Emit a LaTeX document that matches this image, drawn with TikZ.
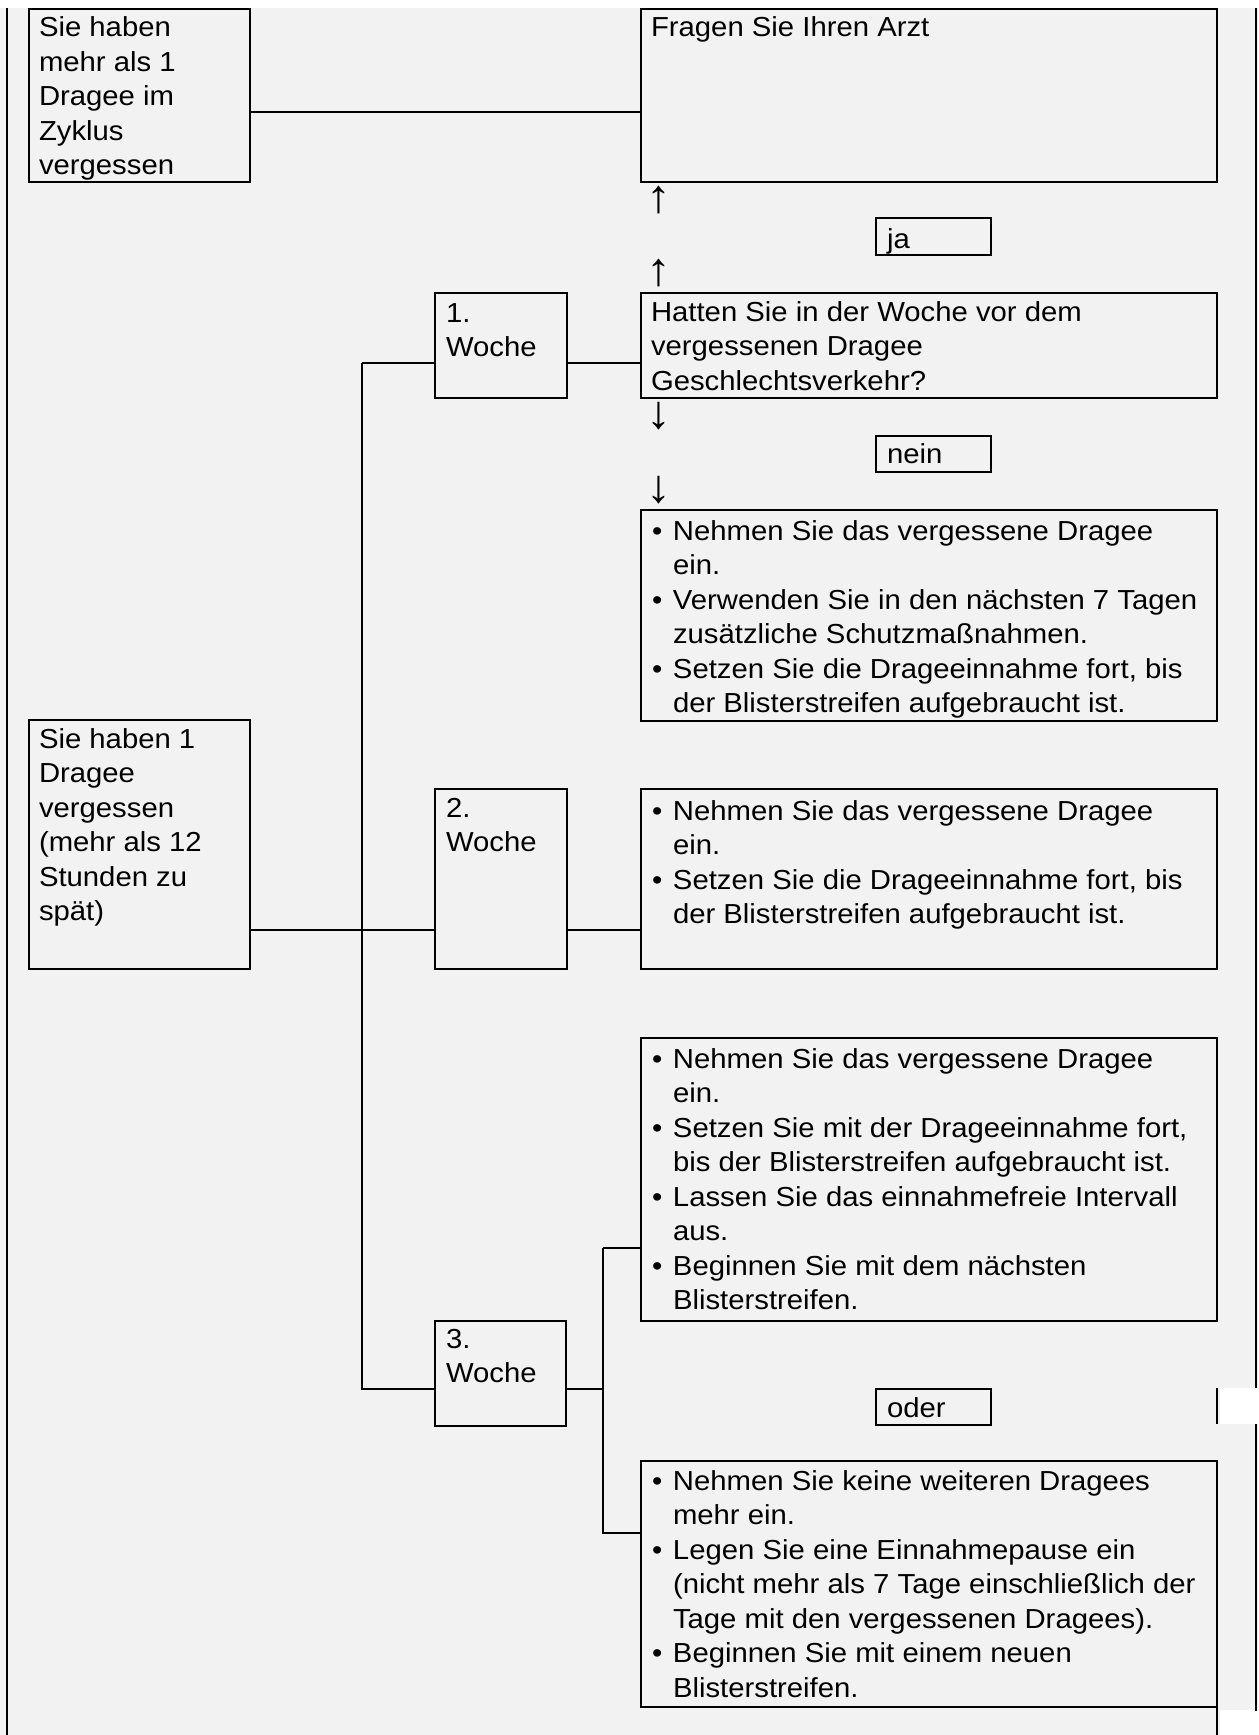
\documentclass[tikz,border=0pt]{standalone}
\usepackage{fontspec}
\setmainfont[FakeStretch=1.065]{Liberation Sans}
\usetikzlibrary{calc}
\definecolor{bg}{HTML}{F2F2F2}
\newcommand\bl{\makebox[12.6pt][l]{•}}
\begin{document}
\begin{tikzpicture}[x=0.6pt,y=-0.6pt,
  box/.style={draw, line width=1.3pt, rectangle, inner sep=0pt, outer sep=0pt, anchor=north west},
  sz/.style 2 args={minimum width=#1*0.6pt, minimum height=#2*0.6pt},
  txt/.style={inner sep=0pt, outer sep=0pt, anchor=base west, font=\fontsize{16.5}{20.7}\selectfont},
  conn/.style={line width=1.2pt},
  arr/.style={inner sep=0pt, font=\fontsize{28}{28}\selectfont}]
\useasboundingbox (0,0) rectangle (1258,1735);
\fill[white] (0,0) rectangle (1258,1735);
\fill[bg] (0,8) rectangle (1258,1735);
\fill[white] (1220,1388) rectangle (1258,1424);
\fill[white] (1220,1710) rectangle (1258,1735);

% boxes
\node[box, sz={221}{173}] (A) at (29,9) {};
\node[box, sz={576}{173}] (fragen) at (641,9) {};
\node[box, sz={115}{37}] (ja) at (876,218) {};
\node[box, sz={576}{105}] (hatten) at (641,293) {};
\node[box, sz={132}{105}] (w1) at (435,293) {};
\node[box, sz={115}{36}] (nein) at (876,436) {};
\node[box, sz={576}{211}] (b1) at (641,510) {};
\node[box, sz={221}{249}] (B) at (29,720) {};
\node[box, sz={132}{180}] (w2) at (435,789) {};
\node[box, sz={576}{180}] (b2) at (641,789) {};
\node[box, sz={576}{283}] (b3) at (641,1038) {};
\node[box, sz={131}{105}] (w3) at (435,1321) {};
\node[box, sz={115}{36}] (oder) at (876,1389) {};
\node[box, sz={576}{246}] (b4) at (641,1461) {};

% texts
\node[txt] (tA) at ($(A.north west)+(10,28)$) {\begin{tabular}[t]{@{}l@{}}Sie haben\\mehr als 1\\Dragee im\\Zyklus\\vergessen\end{tabular}};
\node[txt] (tfragen) at ($(fragen.north west)+(10,28)$) {Fragen Sie Ihren Arzt};
\node[txt] (tja) at ($(ja.north west)+(11,30)$) {ja};
\node[txt] (thatten) at ($(hatten.north west)+(10,28)$) {\begin{tabular}[t]{@{}l@{}}Hatten Sie in der Woche vor dem\\vergessenen Dragee\\Geschlechtsverkehr?\end{tabular}};
\node[txt] (tw1) at ($(w1.north west)+(11,29)$) {\begin{tabular}[t]{@{}l@{}}1.\\Woche\end{tabular}};
\node[txt] (tnein) at ($(nein.north west)+(11,27)$) {nein};
\node[txt] (tb1) at ($(b1.north west)+(11,30)$) {\begin{tabular}[t]{@{}l@{}l@{}}\bl&Nehmen Sie das vergessene Dragee\\&ein.\\\bl&Verwenden Sie in den nächsten 7 Tagen\\&zusätzliche Schutzmaßnahmen.\\\bl&Setzen Sie die Drageeinnahme fort, bis\\&der Blisterstreifen aufgebraucht ist.\end{tabular}};
\node[txt] (tB) at ($(B.north west)+(10,28)$) {\begin{tabular}[t]{@{}l@{}}Sie haben 1\\Dragee\\vergessen\\(mehr als 12\\Stunden zu\\spät)\end{tabular}};
\node[txt] (tw2) at ($(w2.north west)+(11,28)$) {\begin{tabular}[t]{@{}l@{}}2.\\Woche\end{tabular}};
\node[txt] (tb2) at ($(b2.north west)+(11,31)$) {\begin{tabular}[t]{@{}l@{}l@{}}\bl&Nehmen Sie das vergessene Dragee\\&ein.\\\bl&Setzen Sie die Drageeinnahme fort, bis\\&der Blisterstreifen aufgebraucht ist.\end{tabular}};
\node[txt] (tb3) at ($(b3.north west)+(11,30)$) {\begin{tabular}[t]{@{}l@{}l@{}}\bl&Nehmen Sie das vergessene Dragee\\&ein.\\\bl&Setzen Sie mit der Drageeinnahme fort,\\&bis der Blisterstreifen aufgebraucht ist.\\\bl&Lassen Sie das einnahmefreie Intervall\\&aus.\\\bl&Beginnen Sie mit dem nächsten\\&Blisterstreifen.\end{tabular}};
\node[txt] (tw3) at ($(w3.north west)+(11,27)$) {\begin{tabular}[t]{@{}l@{}}3.\\Woche\end{tabular}};
\node[txt] (toder) at ($(oder.north west)+(11,28)$) {oder};
\node[txt] (tb4) at ($(b4.north west)+(11,29)$) {\begin{tabular}[t]{@{}l@{}l@{}}\bl&Nehmen Sie keine weiteren Dragees\\&mehr ein.\\\bl&Legen Sie eine Einnahmepause ein\\&(nicht mehr als 7 Tage einschließlich der\\&Tage mit den vergessenen Dragees).\\\bl&Beginnen Sie mit einem neuen\\&Blisterstreifen.\end{tabular}};

% arrow glyphs
\node[arr] (up1) at (659,200) {↑};
\node[arr] (up2) at (659,273) {↑};
\node[arr] (dn1) at (659,416) {↓};
\node[arr] (dn2) at (659,490) {↓};

% connectors
\coordinate (yA) at (0,112);
\draw[conn] (A.east |- yA) -- (fragen.west |- yA);
\coordinate (sp1) at (362,363);
\coordinate (sp3) at (362,1389);
\draw[conn] (sp1) -- (w1.west |- sp1);
\draw[conn] (w1.east |- sp1) -- (hatten.west |- sp1);
\draw[conn] (sp1) -- (sp3) -- (w3.west |- sp3);
\coordinate (y2) at (0,930);
\draw[conn] (B.east |- y2) -- (w2.west |- y2);
\draw[conn] (w2.east |- y2) -- (b2.west |- y2);
\coordinate (j1) at (603,1248);
\coordinate (j2) at (603,1533);
\draw[conn] (w3.east |- sp3) -- (j1 |- sp3);
\draw[conn] (j1) -- (b3.west |- j1);
\draw[conn] (j1) -- (j2) -- (b4.west |- j2);

% frame lines
\coordinate (L1) at (7,8);
\coordinate (L2) at (7,1735);
\draw[conn] (L1) -- (L2);
\coordinate (R1) at (1256,8);
\coordinate (R2) at (1256,1388);
\coordinate (R3) at (1256,1424);
\coordinate (R4) at (1256,1711);
\draw[conn] (R1) -- (R2);
\draw[conn] (R3) -- (R4);
\coordinate (S1) at (1217,1388);
\coordinate (S2) at (1217,1424);
\coordinate (S3) at (1217,1707);
\coordinate (S4) at (1217,1735);
\draw[conn] (S1) -- (S2);
\draw[conn] (S3) -- (S4);
\end{tikzpicture}
\end{document}
